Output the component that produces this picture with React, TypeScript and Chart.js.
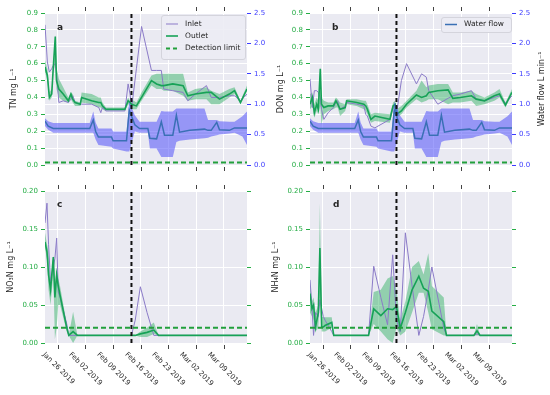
import React, { useEffect, useRef } from 'react';
import { Chart, registerables } from 'chart.js';
Chart.register(...registerables);

// ---------- axis / tick data ----------
const tickDays = [0, 7, 14, 21, 28, 35, 42]; // days after Jan 26 2019
const tickLabels = ['Jan 26 2019', 'Feb 02 2019', 'Feb 09 2019', 'Feb 16 2019', 'Feb 23 2019', 'Mar 02 2019', 'Mar 09 2019'];
const xMin = -3.2;
const xMax = 47.85;
const switchDay = 18.65;

// ---------- TN / DON sampling ----------
const wqDays = [-3.2, -2.6, -2.1, -1.5, -1.1, -0.6, -0.3, 0.3, 1.4, 2.7, 3.35, 3.8, 4.4, 5.7, 6.05, 8.6, 10.4, 10.9, 11.3, 12.2, 13.2, 17.0, 17.8, 18.3, 18.65, 19.9, 21.2, 23.7, 25.0, 26.2, 26.8, 29.1, 31.7, 32.9, 34.8, 37.6, 38.8, 40.9, 43.4, 44.7, 46.2, 47.85];

const tnInlet = [0.83, 0.61, 0.55, 0.57, 0.59, 0.60, 0.55, 0.37, 0.38, 0.37, 0.39, 0.41, 0.37, 0.36, 0.36, 0.36, 0.34, 0.31, 0.34, 0.32, 0.32, 0.32, 0.48, 0.42, 0.33, 0.57, 0.82, 0.56, 0.56, 0.56, 0.45, 0.44, 0.43, 0.38, 0.42, 0.47, 0.40, 0.40, 0.41, 0.41, 0.38, 0.42];
const tnOutlet = [0.58, 0.53, 0.40, 0.42, 0.58, 0.76, 0.50, 0.45, 0.42, 0.38, 0.42, 0.39, 0.37, 0.36, 0.40, 0.38, 0.37, 0.37, 0.35, 0.33, 0.33, 0.33, 0.38, 0.37, 0.36, 0.35, 0.40, 0.50, 0.48, 0.47, 0.47, 0.48, 0.47, 0.41, 0.42, 0.43, 0.43, 0.39, 0.42, 0.44, 0.37, 0.45];
const tnOutletLo = [0.55, 0.50, 0.38, 0.40, 0.55, 0.60, 0.45, 0.40, 0.38, 0.37, 0.39, 0.37, 0.35, 0.35, 0.37, 0.36, 0.34, 0.34, 0.33, 0.32, 0.32, 0.32, 0.36, 0.35, 0.33, 0.33, 0.38, 0.47, 0.45, 0.45, 0.44, 0.44, 0.41, 0.38, 0.39, 0.39, 0.36, 0.36, 0.40, 0.42, 0.36, 0.44];
const tnOutletHi = [0.62, 0.57, 0.43, 0.45, 0.60, 0.77, 0.58, 0.51, 0.46, 0.40, 0.43, 0.42, 0.38, 0.37, 0.43, 0.42, 0.40, 0.40, 0.37, 0.34, 0.34, 0.34, 0.40, 0.38, 0.39, 0.37, 0.43, 0.53, 0.54, 0.54, 0.54, 0.54, 0.54, 0.43, 0.45, 0.46, 0.44, 0.42, 0.45, 0.46, 0.38, 0.47];

const donInlet = [0.51, 0.34, 0.44, 0.44, 0.43, 0.40, 0.33, 0.27, 0.31, 0.34, 0.37, 0.38, 0.33, 0.35, 0.37, 0.36, 0.35, 0.30, 0.29, 0.23, 0.22, 0.27, 0.35, 0.36, 0.30, 0.50, 0.60, 0.48, 0.54, 0.52, 0.44, 0.36, 0.395, 0.41, 0.42, 0.44, 0.39, 0.38, 0.40, 0.41, 0.365, 0.41];
const donOutlet = [0.36, 0.40, 0.31, 0.36, 0.33, 0.57, 0.36, 0.34, 0.35, 0.35, 0.38, 0.36, 0.33, 0.34, 0.38, 0.37, 0.36, 0.35, 0.33, 0.27, 0.29, 0.27, 0.35, 0.36, 0.30, 0.32, 0.36, 0.415, 0.40, 0.41, 0.43, 0.44, 0.445, 0.395, 0.40, 0.41, 0.39, 0.38, 0.41, 0.42, 0.355, 0.43];
const donOutletLo = [0.33, 0.35, 0.28, 0.32, 0.30, 0.35, 0.24, 0.30, 0.32, 0.33, 0.34, 0.34, 0.29, 0.32, 0.36, 0.35, 0.33, 0.32, 0.30, 0.25, 0.26, 0.25, 0.33, 0.34, 0.28, 0.30, 0.34, 0.39, 0.37, 0.38, 0.39, 0.39, 0.36, 0.37, 0.37, 0.38, 0.35, 0.36, 0.38, 0.40, 0.34, 0.42];
const donOutletHi = [0.42, 0.43, 0.36, 0.40, 0.38, 0.58, 0.40, 0.38, 0.37, 0.37, 0.40, 0.39, 0.37, 0.36, 0.39, 0.39, 0.38, 0.38, 0.36, 0.30, 0.31, 0.30, 0.37, 0.38, 0.33, 0.35, 0.38, 0.44, 0.50, 0.46, 0.47, 0.48, 0.48, 0.43, 0.43, 0.44, 0.42, 0.40, 0.43, 0.45, 0.37, 0.45];

// ---------- water flow ----------
const flowDays = [-3.2, -2.4, -1.1, 8.1, 9.0, 9.6, 10.3, 13.6, 14.0, 17.4, 18.1, 19.5, 20.7, 22.8, 23.3, 25.0, 26.2, 27.0, 29.1, 30.0, 30.8, 33.4, 37.1, 38.0, 38.8, 40.2, 40.9, 43.4, 44.7, 46.7, 47.85];
const flowMean = [0.72, 0.64, 0.60, 0.60, 0.74, 0.55, 0.46, 0.46, 0.40, 0.40, 0.90, 0.66, 0.60, 0.60, 0.44, 0.43, 0.71, 0.49, 0.49, 0.82, 0.54, 0.57, 0.59, 0.57, 0.57, 0.70, 0.58, 0.57, 0.61, 0.61, 0.61];
const flowLo = [0.64, 0.58, 0.53, 0.53, 0.53, 0.42, 0.33, 0.30, 0.27, 0.22, 0.22, 0.55, 0.53, 0.53, 0.27, 0.27, 0.13, 0.13, 0.13, 0.38, 0.40, 0.42, 0.44, 0.45, 0.47, 0.49, 0.50, 0.52, 0.53, 0.47, 0.33];
const flowHi = [0.77, 0.72, 0.69, 0.69, 0.88, 0.70, 0.60, 0.60, 0.55, 0.55, 1.04, 0.82, 0.71, 0.71, 0.71, 0.71, 0.89, 0.88, 0.88, 0.93, 0.93, 0.93, 0.93, 0.74, 0.74, 0.74, 0.72, 0.71, 0.71, 0.80, 0.88];

// ---------- NO3-N / NH4-N sampling ----------
const nDays = [-3.2, -2.7, -2.3, -1.8, -1.1, -0.7, -0.25, 0.15, 0.6, 2.3, 2.8, 3.9, 5.0, 11.6, 12.9, 14.7, 16.4, 17.7, 18.65, 19.6, 20.9, 22.6, 24.3, 25.5, 26.7, 27.6, 30.6, 31.3, 38.2, 39.0, 39.8, 47.85];

const no3Inlet = [0.158, 0.184, 0.13, 0.081, 0.10, 0.111, 0.138, 0.067, 0.06, 0.025, 0.01, 0.01, 0.01, 0.01, 0.01, 0.01, 0.01, 0.01, 0.01, 0.03, 0.074, 0.04, 0.01, 0.01, 0.01, 0.01, 0.01, 0.01, 0.01, 0.01, 0.01, 0.01];
const no3Outlet = [0.133, 0.12, 0.09, 0.07, 0.113, 0.06, 0.09, 0.075, 0.063, 0.02, 0.01, 0.015, 0.01, 0.01, 0.01, 0.01, 0.01, 0.01, 0.01, 0.01, 0.012, 0.014, 0.017, 0.01, 0.01, 0.01, 0.01, 0.01, 0.01, 0.01, 0.01, 0.01];
const no3OutletLo = [0.125, 0.11, 0.07, 0.05, 0.09, 0.005, 0.02, 0.05, 0.05, 0.015, 0.01, 0.0, 0.01, 0.01, 0.01, 0.01, 0.01, 0.01, 0.01, 0.01, 0.008, 0.008, 0.012, 0.01, 0.01, 0.01, 0.01, 0.01, 0.01, 0.01, 0.01, 0.01];
const no3OutletHi = [0.145, 0.13, 0.12, 0.08, 0.115, 0.08, 0.095, 0.085, 0.075, 0.025, 0.01, 0.041, 0.01, 0.01, 0.01, 0.01, 0.01, 0.01, 0.01, 0.01, 0.015, 0.02, 0.027, 0.01, 0.01, 0.01, 0.01, 0.01, 0.01, 0.01, 0.01, 0.01];

const nh4Inlet = [0.083, 0.048, 0.01, 0.04, 0.035, 0.057, 0.045, 0.035, 0.03, 0.015, 0.01, 0.01, 0.01, 0.01, 0.101, 0.06, 0.024, 0.116, 0.03, 0.015, 0.145, 0.075, 0.01, 0.035, 0.07, 0.10, 0.02, 0.01, 0.01, 0.012, 0.01, 0.01];
const nh4Outlet = [0.065, 0.045, 0.05, 0.021, 0.04, 0.125, 0.021, 0.021, 0.023, 0.027, 0.01, 0.01, 0.01, 0.01, 0.045, 0.036, 0.045, 0.044, 0.048, 0.019, 0.04, 0.07, 0.088, 0.072, 0.068, 0.042, 0.028, 0.01, 0.01, 0.016, 0.01, 0.01];
const nh4OutletLo = [0.04, 0.035, 0.03, 0.015, 0.02, 0.06, 0.015, 0.015, 0.015, 0.02, 0.01, 0.01, 0.01, 0.01, 0.025, 0.015, 0.005, 0.0, 0.02, 0.01, 0.015, 0.04, 0.066, 0.066, 0.04, 0.018, 0.01, 0.01, 0.01, 0.01, 0.01, 0.01];
const nh4OutletHi = [0.082, 0.055, 0.06, 0.04, 0.05, 0.184, 0.035, 0.034, 0.034, 0.034, 0.01, 0.01, 0.01, 0.01, 0.067, 0.07, 0.085, 0.088, 0.07, 0.03, 0.055, 0.10, 0.108, 0.09, 0.118, 0.075, 0.06, 0.01, 0.01, 0.025, 0.01, 0.01];

const detectionCarbon = 0.015;
const detectionN = 0.02;

// ---------- styles ----------
const FONT = 'DejaVu Sans';
const BG = '#EAEAF2';
const INLET = '#8b7bc8';
const OUTLET = '#17a257';
const OUTLET_BAND = 'rgba(25,170,80,0.42)';
const FLOW = '#3a70b5';
const FLOW_BAND = 'rgba(80,80,250,0.55)';
const DET = '#22a03c';
const LEFT_TICK = '#25ad45';
const RIGHT_TICK = '#3b3bff';
const TEXT = '#262626';

type Spec = {
  letter: string; left: number; right: number; top: number; bottom: number;
  yMax: number; yStep: number; yDec: number;
  days: number[]; inlet: number[]; outlet: number[]; lo: number[]; hi: number[];
  detection: number; flow: boolean; dates: boolean;
  yTitle: string; yTitleX: number; rightTitle?: string; rightTitleX?: number;
  letterX: number; letterY: number; legend: 'main' | 'flow' | null;
};

const specs: Spec[] = [
  { letter: 'a', left: 45, right: 247, top: 13, bottom: 165, yMax: 0.9, yStep: 0.1, yDec: 1,
    days: wqDays, inlet: tnInlet, outlet: tnOutlet, lo: tnOutletLo, hi: tnOutletHi,
    detection: detectionCarbon, flow: true, dates: false, yTitle: 'TN mg L⁻¹', yTitleX: 14,
    letterX: 57, letterY: 30, legend: 'main' },
  { letter: 'b', left: 310, right: 512, top: 13, bottom: 165, yMax: 0.9, yStep: 0.1, yDec: 1,
    days: wqDays, inlet: donInlet, outlet: donOutlet, lo: donOutletLo, hi: donOutletHi,
    detection: detectionCarbon, flow: true, dates: false, yTitle: 'DON mg L⁻¹', yTitleX: 281,
    rightTitle: 'Water flow L min⁻¹', rightTitleX: 542, letterX: 332, letterY: 30, legend: 'flow' },
  { letter: 'c', left: 45, right: 247, top: 191, bottom: 343, yMax: 0.2, yStep: 0.05, yDec: 2,
    days: nDays, inlet: no3Inlet, outlet: no3Outlet, lo: no3OutletLo, hi: no3OutletHi,
    detection: detectionN, flow: false, dates: true, yTitle: 'NO₃N mg L⁻¹', yTitleX: 11,
    letterX: 57, letterY: 207, legend: null },
  { letter: 'd', left: 310, right: 512, top: 191, bottom: 343, yMax: 0.2, yStep: 0.05, yDec: 2,
    days: nDays, inlet: nh4Inlet, outlet: nh4Outlet, lo: nh4OutletLo, hi: nh4OutletHi,
    detection: detectionN, flow: false, dates: true, yTitle: 'NH₄N mg L⁻¹', yTitleX: 276,
    letterX: 333, letterY: 207, legend: null },
];

const W = 550;
const H = 395;

function series(xs: number[], ys: number[], extra: any) {
  return {
    data: xs.map((x, i) => ({ x, y: ys[i] })),
    pointRadius: 0, pointHoverRadius: 0, tension: 0, fill: false,
    ...extra,
  };
}

function rotatedText(ctx: CanvasRenderingContext2D, text: string, x: number, y: number, font: string) {
  ctx.save();
  ctx.translate(x, y);
  ctx.rotate(-Math.PI / 2);
  ctx.font = font;
  ctx.fillStyle = TEXT;
  ctx.textAlign = 'center';
  ctx.textBaseline = 'middle';
  ctx.fillText(text, 0, 0);
  ctx.restore();
}

function roundRect(ctx: CanvasRenderingContext2D, x: number, y: number, w: number, h: number, r: number) {
  ctx.beginPath();
  ctx.moveTo(x + r, y);
  ctx.lineTo(x + w - r, y);
  ctx.quadraticCurveTo(x + w, y, x + w, y + r);
  ctx.lineTo(x + w, y + h - r);
  ctx.quadraticCurveTo(x + w, y + h, x + w - r, y + h);
  ctx.lineTo(x + r, y + h);
  ctx.quadraticCurveTo(x, y + h, x, y + h - r);
  ctx.lineTo(x, y + r);
  ctx.quadraticCurveTo(x, y, x + r, y);
  ctx.closePath();
}

function makePlugin(s: Spec) {
  return {
    id: 'panelDecor' + s.letter,
    beforeDraw(chart: any) {
      const { ctx, chartArea: a } = chart;
      ctx.save();
      ctx.fillStyle = BG;
      ctx.fillRect(a.left, a.top, a.right - a.left, a.bottom - a.top);
      ctx.restore();
    },
    afterDraw(chart: any) {
      const { ctx, chartArea: a } = chart;
      const xs = chart.scales.x;
      ctx.save();
      ctx.strokeStyle = '#444';
      ctx.lineWidth = 1;
      tickDays.forEach((d, i) => {
        const px = Math.round(xs.getPixelForValue(d)) + 0.5;
        ctx.beginPath();
        ctx.moveTo(px, a.top - 6); ctx.lineTo(px, a.top - 2);
        ctx.moveTo(px, a.bottom + 2); ctx.lineTo(px, a.bottom + 6);
        ctx.stroke();
        if (s.dates) {
          ctx.save();
          ctx.font = `7px "${FONT}"`;
          const w = ctx.measureText(tickLabels[i]).width;
          const half = (w + 7) * Math.SQRT1_2 / 2;
          ctx.translate(px, a.bottom + 8 + half);
          ctx.rotate(Math.PI / 4);
          ctx.textAlign = 'center';
          ctx.textBaseline = 'middle';
          ctx.fillStyle = TEXT;
          ctx.fillText(tickLabels[i], 0, 0);
          ctx.restore();
        }
      });
      // panel letter
      ctx.font = `bold 9px "${FONT}"`;
      ctx.fillStyle = TEXT;
      ctx.textAlign = 'left';
      ctx.textBaseline = 'alphabetic';
      ctx.fillText(s.letter, s.letterX, s.letterY);
      // axis titles
      const cy = (a.top + a.bottom) / 2;
      rotatedText(ctx, s.yTitle, s.yTitleX, cy, `8px "${FONT}"`);
      if (s.rightTitle && s.rightTitleX) rotatedText(ctx, s.rightTitle, s.rightTitleX, cy, `8px "${FONT}"`);
      // legends
      if (s.legend === 'main') {
        const bx = a.right - 86, by = a.top + 2, bw = 84, bh = 44;
        roundRect(ctx, bx + 0.5, by + 0.5, bw, bh, 2.5);
        ctx.fillStyle = 'rgba(236,236,244,0.9)';
        ctx.fill();
        ctx.strokeStyle = '#d4d4dc';
        ctx.lineWidth = 1;
        ctx.stroke();
        const rows = [
          { label: 'Inlet', color: INLET, width: 1, dash: [] as number[], y: by + 9 },
          { label: 'Outlet', color: OUTLET, width: 1.6, dash: [] as number[], y: by + 21 },
          { label: 'Detection limit', color: DET, width: 2, dash: [4, 3], y: by + 33.5 },
        ];
        rows.forEach((r) => {
          ctx.beginPath();
          ctx.setLineDash(r.dash);
          ctx.strokeStyle = r.color;
          ctx.lineWidth = r.width;
          ctx.moveTo(bx + 5, r.y); ctx.lineTo(bx + 17, r.y);
          ctx.stroke();
          ctx.setLineDash([]);
          ctx.font = `7.5px "${FONT}"`;
          ctx.fillStyle = TEXT;
          ctx.textBaseline = 'middle';
          ctx.fillText(r.label, bx + 24, r.y);
        });
      } else if (s.legend === 'flow') {
        const bx = a.right - 71, by = a.top + 4, bw = 70, bh = 15;
        roundRect(ctx, bx + 0.5, by + 0.5, bw, bh, 2.5);
        ctx.fillStyle = 'rgba(236,236,244,0.9)';
        ctx.fill();
        ctx.strokeStyle = '#d4d4dc';
        ctx.lineWidth = 1;
        ctx.stroke();
        const yy = by + 7.5;
        ctx.beginPath();
        ctx.strokeStyle = FLOW;
        ctx.lineWidth = 1.5;
        ctx.moveTo(bx + 4, yy); ctx.lineTo(bx + 16, yy);
        ctx.stroke();
        ctx.font = `7.5px "${FONT}"`;
        ctx.fillStyle = TEXT;
        ctx.textBaseline = 'middle';
        ctx.fillText('Water flow', bx + 23, yy);
      }
      ctx.restore();
    },
  };
}

function buildConfig(s: Spec): any {
  const datasets: any[] = [];
  const transparent = 'rgba(0,0,0,0)';
  datasets.push(series(s.days, s.lo, { borderColor: transparent, borderWidth: 0, order: 6, yAxisID: 'y' }));
  datasets.push(series(s.days, s.hi, { borderColor: transparent, borderWidth: 0, order: 6, yAxisID: 'y', fill: '-1', backgroundColor: OUTLET_BAND }));
  datasets.push(series(s.days, s.inlet, { borderColor: INLET, borderWidth: 1, order: 5, yAxisID: 'y' }));
  datasets.push(series(s.days, s.outlet, { borderColor: OUTLET, borderWidth: 1.6, order: 4, yAxisID: 'y' }));
  if (s.flow) {
    datasets.push(series(flowDays, flowLo, { borderColor: transparent, borderWidth: 0, order: 3, yAxisID: 'y2' }));
    datasets.push(series(flowDays, flowHi, { borderColor: transparent, borderWidth: 0, order: 3, yAxisID: 'y2', fill: '-1', backgroundColor: FLOW_BAND }));
    datasets.push(series(flowDays, flowMean, { borderColor: FLOW, borderWidth: 1.5, order: 2, yAxisID: 'y2' }));
  }
  datasets.push(series([xMin, xMax], [s.detection, s.detection], { borderColor: DET, borderWidth: 2, borderDash: [5, 3], order: 1, yAxisID: 'y' }));
  datasets.push(series([switchDay, switchDay], [0, s.yMax], { borderColor: '#111', borderWidth: 2, borderDash: [4, 3], order: 0, yAxisID: 'y' }));

  const tickFont = { family: FONT, size: 7 };
  return {
    type: 'line',
    data: { datasets },
    options: {
      animation: false,
      responsive: false,
      devicePixelRatio: 1,
      events: [],
      layout: { padding: { top: s.top, left: 0, right: 0, bottom: 0 } },
      plugins: { legend: { display: false }, tooltip: { enabled: false } },
      scales: {
        x: {
          type: 'linear', min: xMin, max: xMax,
          afterBuildTicks: (scale: any) => { scale.ticks = tickDays.map((v) => ({ value: v })); },
          ticks: { display: false },
          grid: { color: '#ffffff', lineWidth: 1, drawTicks: false },
          border: { display: false },
          afterFit: (scale: any) => { scale.height = H - s.bottom; },
        },
        y: {
          position: 'left', min: 0, max: s.yMax,
          ticks: { stepSize: s.yStep, color: LEFT_TICK, font: tickFont, padding: 3,
            callback: (v: any) => Number(v).toFixed(s.yDec) },
          grid: { color: '#ffffff', lineWidth: 1, tickColor: LEFT_TICK, tickLength: 4 },
          border: { display: false },
          afterFit: (scale: any) => { scale.width = s.left; },
        },
        y2: s.flow ? {
          position: 'right', min: 0, max: 2.5,
          ticks: { stepSize: 0.5, color: RIGHT_TICK, font: tickFont, padding: 3,
            callback: (v: any) => Number(v).toFixed(1) },
          grid: { color: '#ffffff', lineWidth: 1, tickColor: RIGHT_TICK, tickLength: 4 },
          border: { display: false },
          afterFit: (scale: any) => { scale.width = W - s.right; },
        } : {
          position: 'right', min: 0, max: s.yMax,
          ticks: { stepSize: s.yStep, display: false },
          grid: { color: '#ffffff', lineWidth: 1, tickColor: LEFT_TICK, tickLength: 4 },
          border: { display: false },
          afterFit: (scale: any) => { scale.width = W - s.right; },
        },
      },
    },
    plugins: [makePlugin(s)],
  };
}

function Panel({ spec }: { spec: Spec }) {
  const ref = useRef<HTMLCanvasElement>(null);
  useEffect(() => {
    const chart = new Chart(ref.current as HTMLCanvasElement, buildConfig(spec));
    return () => chart.destroy();
  }, [spec]);
  return (
    <canvas ref={ref} width={W} height={H}
      style={{ position: 'absolute', left: 0, top: 0, width: W, height: H }} />
  );
}

export default function App() {
  return (
    <div style={{ position: 'absolute', left: 0, top: 0, width: W, height: H, background: '#ffffff', overflow: 'hidden' }}>
      {specs.map((s) => <Panel key={s.letter} spec={s} />)}
    </div>
  );
}
